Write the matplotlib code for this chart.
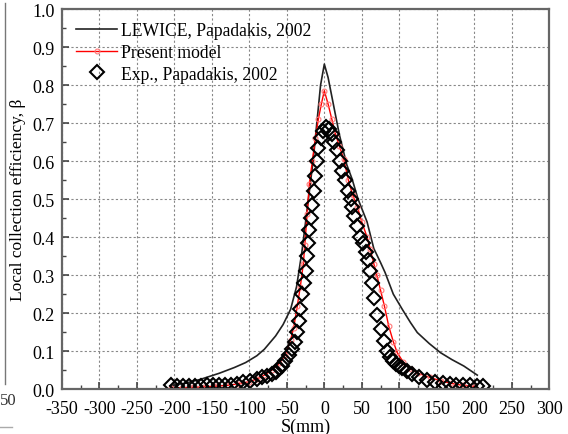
import numpy as np
import matplotlib.pyplot as plt
from matplotlib.lines import Line2D
from matplotlib.ticker import MultipleLocator

plt.rcParams['font.family'] = ['Liberation Serif', 'DejaVu Serif']
plt.rcParams['axes.unicode_minus'] = False

# LEWICE, Papadakis 2002
lewice_s = [-206, -185, -165, -140, -120, -105, -90, -80, -65, -55, -45, -37, -30, -25, -20, -15, -10, -5, 0,
            5, 10, 20, 30, 37, 45, 57, 66, 75, 81, 92, 104, 115, 124, 140, 155, 170, 186, 204]
lewice_b = [0.009, 0.016, 0.026, 0.042, 0.057, 0.070, 0.088, 0.105, 0.14, 0.17, 0.21, 0.27, 0.36, 0.44, 0.52, 0.60, 0.70, 0.80, 0.855,
            0.82, 0.77, 0.67, 0.59, 0.553, 0.50, 0.44, 0.37, 0.333, 0.307, 0.25, 0.21, 0.175, 0.149, 0.12, 0.096, 0.078, 0.061, 0.037]

# present model
model_s = [-205, -190, -175, -160, -145, -130, -115, -100, -90, -80, -70, -60, -52, -45, -41, -36, -32, -28, -26, -23, -20, -16, -12, -8, -4, 0,
           5, 10, 15, 20, 26, 32, 38, 44, 50, 57, 61, 66, 70, 75, 80, 86, 92, 97, 105, 115, 125, 141, 155, 170, 185, 200]
model_b = [0.004, 0.004, 0.005, 0.006, 0.008, 0.010, 0.014, 0.020, 0.027, 0.037, 0.050, 0.068, 0.09, 0.13, 0.16, 0.22, 0.27, 0.33, 0.38, 0.46, 0.54, 0.60, 0.66, 0.71, 0.75, 0.785,
           0.75, 0.71, 0.67, 0.64, 0.605, 0.55, 0.51, 0.48, 0.44, 0.40, 0.37, 0.33, 0.30, 0.26, 0.22, 0.165, 0.125, 0.097, 0.072, 0.053, 0.042, 0.031, 0.022, 0.015, 0.010, 0.007]

# experiment, Papadakis 2002
exp_s = [-205, -197, -189, -181, -173, -165, -157, -149, -141, -133, -125, -117, -108, -99, -90, -83, -76, -70, -65, -60, -56, -52,
         -47, -43, -39, -36, -34, -32, -30, -27, -25, -23, -22, -20, -18, -16, -14, -12, -10, -8, -5, -2, 2, 6, 10, 13, 17, 21, 24,
         28, 32, 35, 37, 40, 44, 48, 52, 55, 58, 61, 64, 66, 70, 75, 79, 83, 87, 91, 95, 99, 104, 110, 117, 126, 137, 148, 158, 167,
         176, 185, 194, 203, 211]
exp_b = [0.010, 0.009, 0.009, 0.009, 0.009, 0.009, 0.010, 0.010, 0.010, 0.011, 0.012, 0.014, 0.018, 0.022, 0.026, 0.031, 0.036, 0.041, 0.046, 0.055, 0.062, 0.075,
         0.09, 0.105, 0.125, 0.15, 0.18, 0.21, 0.25, 0.28, 0.31, 0.35, 0.385, 0.42, 0.45, 0.485, 0.52, 0.56, 0.60, 0.635, 0.66, 0.68, 0.69, 0.685, 0.67, 0.65, 0.63, 0.60, 0.575,
         0.55, 0.52, 0.50, 0.48, 0.455, 0.43, 0.40, 0.385, 0.36, 0.34, 0.31, 0.28, 0.24, 0.195, 0.158, 0.128, 0.10, 0.085, 0.073, 0.066, 0.06, 0.055, 0.048, 0.04, 0.031, 0.023, 0.02, 0.017, 0.013,
         0.011, 0.010, 0.010, 0.009, 0.008]

fig = plt.figure(figsize=(5.68, 4.35), dpi=100)
ax = fig.add_axes([0.109, 0.103, 0.858, 0.874])

ax.plot(lewice_s, lewice_b, '-', color='#222222', lw=1.2, label='LEWICE, Papadakis, 2002')
ax.plot(model_s, model_b, '-', color='red', lw=1.0, marker='o', ms=3.5, mfc='none', mec='#ff7777',
        mew=0.8, label='Present model')
ax.plot(exp_s, exp_b, 'D', ms=7.5, mfc='none', mec='black', mew=1.5, label='Exp., Papadakis, 2002')

ax.set_xlim(-350, 300)
ax.set_ylim(0, 1.0)
ax.xaxis.set_major_locator(MultipleLocator(50))
ax.xaxis.set_minor_locator(MultipleLocator(25))
ax.yaxis.set_minor_locator(MultipleLocator(0.05))
ax.set_yticks(np.arange(0, 1.01, 0.1))
ax.set_yticklabels(['{:.1f}'.format(v) for v in np.arange(0, 1.01, 0.1)])
ax.tick_params(which='both', direction='in', top=False, right=False, labelsize=13, color='#444444')
ax.tick_params(which='major', length=5, width=1.2)
ax.tick_params(axis='x', which='major', pad=8)
ax.tick_params(axis='y', which='major', pad=5)
ax.tick_params(which='minor', length=3, width=1.0)
ax.grid(True, which='major', linestyle=(0, (2, 2)), color='#888888', lw=0.8)
for sp in ax.spines.values():
    sp.set_color('#666666')
    sp.set_linewidth(1.6)

ax.set_xlabel('S(mm)', fontsize=13, labelpad=0)
ax.set_ylabel('Local collection efficiency, \u03b2', fontsize=12.5, labelpad=5)
ax.legend(loc='upper left', bbox_to_anchor=(0.01, 0.992), frameon=False, fontsize=12.7,
          handlelength=2.3, borderaxespad=0.25, labelspacing=0.28, handletextpad=0.2, borderpad=0.3)

# cropped neighbour fragments at the left edge
fig.add_artist(Line2D([0.009, 0.009], [0.115, 0.99], color='#777777', lw=1.0))
fig.add_artist(Line2D([0.0, 0.022], [0.016, 0.016], color='#aaaaaa', lw=1.0))
fig.text(0.0, 0.07, '50', fontsize=12, color='#333333')

fig.savefig('out.png', dpi=100)
